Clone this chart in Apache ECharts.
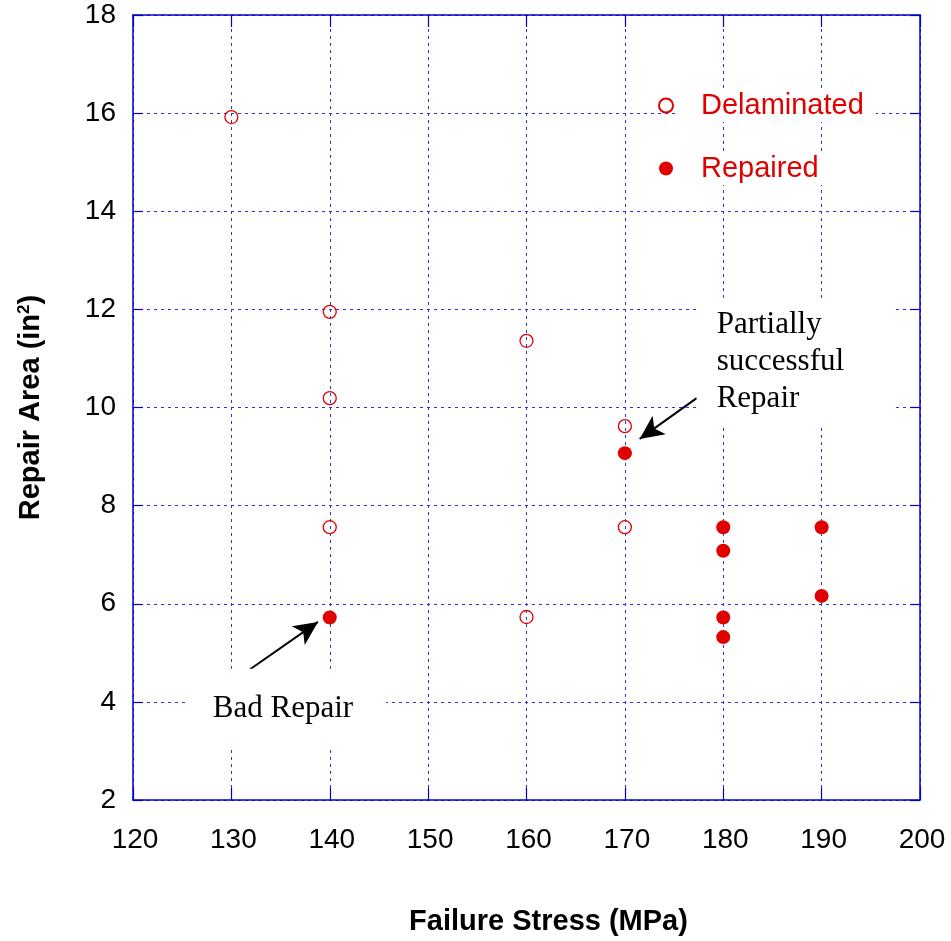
<!DOCTYPE html>
<html>
<head>
<meta charset="utf-8">
<script src="https://cdn.jsdelivr.net/npm/echarts@6/dist/echarts.min.js"></script>
<style>html,body{margin:0;padding:0;background:#fff}#c{width:951px;height:941px}</style>
</head>
<body>
<div id="c"></div>
<script>
// Data (Failure Stress MPa, Repair Area in^2)
var delaminated = [[130,15.92],[140,11.95],[140,10.19],[140,7.56],[160,11.36],[160,5.73],[170,9.62],[170,7.56]];
var repaired = [[140,5.72],[170,9.07],[180,7.56],[180,7.08],[180,5.72],[180,5.32],[190,7.56],[190,6.16]];
var xTicks = [120,130,140,150,160,170,180,190,200];
var yTicks = [2,4,6,8,10,12,14,16,18];
// Annotations: arrow [from, to] in data units, and label anchor
var badRepairArrow = [[131.8,4.65],[138.8,5.63]];
var partialArrow = [[177.3,10.19],[171.5,9.36]];
var badRepairLabel = [135.6,3.86];
var partialLabel = [177.3,10.93];

var RED = '#e00000';
var AXIS = '#0000c8';
var GRID = '#3030e0';
var chart = echarts.init(document.getElementById('c'));
var gridLine = {show:true, lineStyle:{color:GRID, width:1, type:[3,4]}};
chart.setOption({
  animation:false,
  backgroundColor:'#fff',
  grid:{left:133, right:31, top:15, bottom:141},
  legend:{
    orient:'vertical', left:653, top:84, itemWidth:14, itemHeight:14, itemGap:30,
    textStyle:{color:RED, fontSize:29, fontFamily:'Liberation Sans, Arial', backgroundColor:'#fff', padding:[2,12,2,23]},
    data:[{name:'Delaminated', icon:'circle'},{name:'Repaired', icon:'circle'}]
  },
  xAxis:[{
    type:'value', min:120, max:200, interval:10, position:'bottom',
    name:'Failure Stress (MPa)', nameLocation:'middle', nameGap:107,
    nameTextStyle:{fontSize:29, fontWeight:'bold', color:'#000', fontFamily:'Liberation Sans, Arial', padding:[0,0,0,44]},
    axisLine:{show:true, onZero:false, lineStyle:{color:AXIS, width:1.5}},
    axisTick:{show:true, inside:true, length:12, lineStyle:{color:AXIS, width:1.2}},
    axisLabel:{fontSize:28, color:'#000', margin:26, fontFamily:'Liberation Sans, Arial', padding:[0,0,0,4],
      formatter:function(v){return xTicks.indexOf(v)>=0?String(v):'';}},
    splitLine:gridLine
  },{
    type:'value', min:120, max:200, interval:10, position:'top',
    axisLine:{show:true, onZero:false, lineStyle:{color:AXIS, width:1.5}},
    axisTick:{show:true, inside:true, length:12, lineStyle:{color:AXIS, width:1.2}},
    axisLabel:{show:false}, splitLine:{show:false}
  }],
  yAxis:[{
    type:'value', min:2, max:18, interval:2, position:'left',
    name:'Repair Area (in{sup|2})', nameLocation:'middle', nameGap:88,
    nameTextStyle:{fontSize:29, fontWeight:'bold', color:'#000', fontFamily:'Liberation Sans, Arial',
      rich:{sup:{fontSize:17, fontWeight:'bold', verticalAlign:'top', padding:[0,0,12,0], fontFamily:'Liberation Sans, Arial'}}},
    axisLine:{show:true, onZero:false, lineStyle:{color:AXIS, width:1.5}},
    axisTick:{show:true, inside:true, length:10, lineStyle:{color:AXIS, width:1.2}},
    axisLabel:{fontSize:28, color:'#000', margin:17, fontFamily:'Liberation Sans, Arial', padding:[6,0,0,0],
      formatter:function(v){return yTicks.indexOf(v)>=0?String(v):'';}},
    splitLine:gridLine
  },{
    type:'value', min:2, max:18, interval:2, position:'right',
    axisLine:{show:true, onZero:false, lineStyle:{color:AXIS, width:1.5}},
    axisTick:{show:true, inside:true, length:10, lineStyle:{color:AXIS, width:1.2}},
    axisLabel:{show:false}, splitLine:{show:false}
  }],
  series:[{
    name:'Delaminated', type:'scatter', data:delaminated, symbol:'circle', symbolSize:13,
    itemStyle:{color:'rgba(255,255,255,0)', borderColor:RED, borderWidth:1.3, opacity:1},
    z:5
  },{
    name:'Repaired', type:'scatter', data:repaired, symbol:'circle', symbolSize:14,
    itemStyle:{color:RED, opacity:1},
    z:5
  },{
    name:'annot', type:'scatter', data:[], silent:true, z:3,
    markPoint:{
      symbol:'rect', symbolSize:1, itemStyle:{color:'rgba(0,0,0,0)'},
      label:{show:true, position:'inside', color:'#000', fontFamily:'Liberation Serif, Times New Roman, serif', fontSize:31, lineHeight:37,
        backgroundColor:'#fff'},
      data:[
        {coord:badRepairLabel, value:'Bad Repair', label:{formatter:'Bad Repair', align:'center', verticalAlign:'middle', padding:[9,33,34,26]}},
        {coord:partialLabel, value:'p', label:{formatter:'Partially\nsuccessful\nRepair', align:'left', verticalAlign:'middle', padding:[12,49,4,20]}}
      ]
    },
    markLine:{
      silent:true, symbol:['none','arrow'], symbolSize:[17,24],
      lineStyle:{color:'#000', width:2, type:'solid'}, label:{show:false},
      data:[
        [{coord:badRepairArrow[0]},{coord:badRepairArrow[1]}],
        [{coord:partialArrow[0]},{coord:partialArrow[1]}]
      ]
    }
  }]
});
</script>
</body>
</html>
